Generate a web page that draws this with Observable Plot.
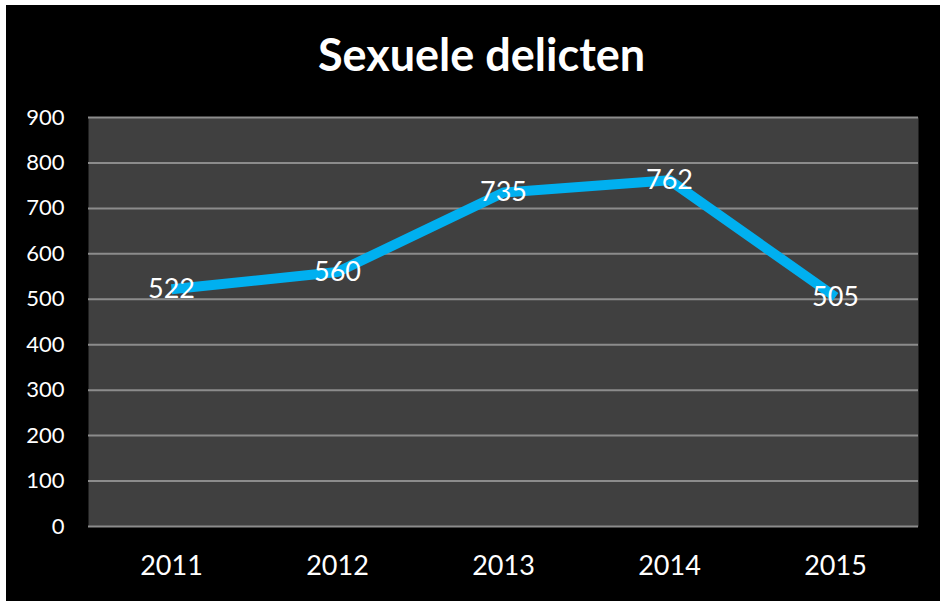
<!DOCTYPE html>
<html>
<head>
<meta charset="utf-8">
<script src="https://cdn.jsdelivr.net/npm/d3@7"></script>
<script src="https://cdn.jsdelivr.net/npm/@observablehq/plot@0.6"></script>
<style>
  html, body { margin: 0; padding: 0; background: #ffffff; }
  #wrap { position: absolute; left: 6px; top: 5px; width: 934px; height: 596px; background: #000; }
  svg { display: block; }
</style>
</head>
<body>
<div id="wrap"></div>
<script>
const title = "Sexuele delicten";
const years = ["2011", "2012", "2013", "2014", "2015"];
const values = [522, 560, 735, 762, 505];
const yTicks = [0, 100, 200, 300, 400, 500, 600, 700, 800, 900];

const data = years.map((y, i) => ({year: y, value: values[i]}));

const chart = Plot.plot({
  width: 934,
  height: 596,
  marginTop: 112,
  marginLeft: 82,
  marginRight: 22,
  marginBottom: 75,
  style: {background: "#000", color: "#fff", fontFamily: "Lato, 'Open Sans', sans-serif"},
  x: {type: "point", domain: years, padding: 0.5, label: null, tickSize: 0, tickPadding: 30},
  y: {domain: [0, 900], label: null, ticks: yTicks, tickSize: 0, tickPadding: 24},
  marks: [
    Plot.frame({fill: "#404040", stroke: null}),
    Plot.ruleY(yTicks, {stroke: "#8c8c8c", strokeWidth: 2}),
    Plot.ruleX([0], {frameAnchor: "left", stroke: "#8c8c8c", strokeWidth: 2}),
    Plot.axisY({ticks: yTicks, tickSize: 0, tickPadding: 24, fontSize: 22, fill: "#fff"}),
    Plot.axisX({tickSize: 0, tickPadding: 29, fontSize: 27, fill: "#fff"}),
    Plot.line(data, {x: "year", y: "value", stroke: "#00b0f0", strokeWidth: 10, strokeLinejoin: "round", strokeLinecap: "butt"}),
    Plot.text(data, {x: "year", y: "value", text: d => String(d.value), fill: "#fff", fontSize: 27}),
    Plot.text([title], {frameAnchor: "top", dx: -22, dy: -78, text: d => d, fill: "#fff", fontSize: 45, fontWeight: "bold"})
  ]
});
document.getElementById("wrap").appendChild(chart);
</script>
</body>
</html>
